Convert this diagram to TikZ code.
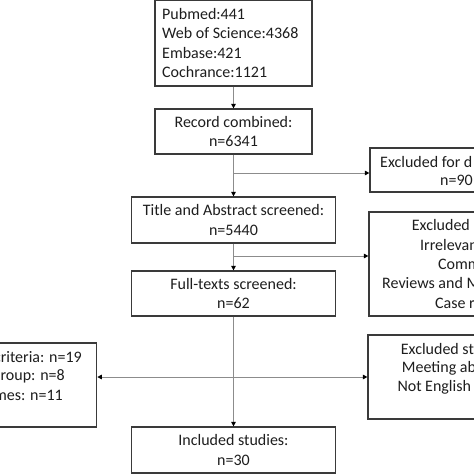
\documentclass[tikz,border=0pt]{standalone}
\usepackage{fontspec}
\setmainfont{Carlito}
\usetikzlibrary{arrows.meta}
\definecolor{boxc}{HTML}{3A3A3A}
\definecolor{linec}{HTML}{8C8C8C}
\definecolor{txtc}{HTML}{1E1E1E}
\begin{document}
\begin{tikzpicture}[x=1pt,y=-1pt,
  box/.style={draw=boxc, line width=1.2pt, inner sep=0pt, fill=white, text=txtc,
    font=\fontsize{16}{19.5}\selectfont, align=center},
  lbl/.style={text=txtc, font=\fontsize{16}{19.5}\selectfont, inner sep=0pt},
  conn/.style={draw=linec, line width=0.9pt},
  arr/.style={conn, -{Triangle[length=4.5pt,width=4.5pt,color=black]}},
]
\useasboundingbox (0,0) rectangle (474,474);
\clip (0,0) rectangle (474,474);

% boxes
\node[box, minimum width=157pt, minimum height=85.5pt] (src) at (233.5,43.25) {};
\node[lbl, anchor=west, align=left] (srct) at (162,43) {Pubmed:441\\Web of Science:4368\\Embase:421\\Cochrance:1121};
\node[box, minimum width=157pt, minimum height=45pt] (rec) at (233.5,131.5) {Record combined:\\n=6341};
\node[box, minimum width=204pt, minimum height=46pt] (title) at (233.5,220) {Title and Abstract screened:\\n=5440};
\node[box, minimum width=204pt, minimum height=45pt] (full) at (233.5,293.5) {Full-texts screened:\\n=62};
\node[box, minimum width=204pt, minimum height=46pt] (incl) at (233.5,450) {Included studies:\\n=30};

\node[box, minimum width=170pt, minimum height=44pt] (excl1) at (455,170) {};
\node[box, minimum width=171pt, minimum height=104pt] (excl2) at (454.5,264) {};
\node[box, minimum width=172pt, minimum height=84pt] (excl3) at (454,377) {};
\node[box, minimum width=166.7pt, minimum height=84pt] (left) at (13.35,385) {};

% cut-off texts
\node[lbl, anchor=west] (e1a) at (380,162) {Excluded for d};
\node[lbl, anchor=west] (e1b) at (440,180) {n=90};
\node[lbl, anchor=west] (e2a) at (411.7,225) {Excluded};
\node[lbl, anchor=west] (e2b) at (420,245) {Irrelevant:};
\node[lbl, anchor=west] (e2c) at (438,264) {Comm};
\node[lbl, anchor=west] (e2d) at (382,283) {Reviews and M};
\node[lbl, anchor=west] (e2e) at (435,303) {Case r};
\node[lbl, anchor=west] (e3a) at (400.7,349) {Excluded st};
\node[lbl, anchor=west] (e3b) at (401.7,368) {Meeting ab};
\node[lbl, anchor=west] (e3c) at (397.3,387) {Not English};
\node[lbl, anchor=east] (l1) at (82,357) {criteria: n=19};
\node[lbl, anchor=east] (l2) at (65,376) {roup: n=8};
\node[lbl, anchor=east] (l3) at (63,395) {mes: n=11};

% connectors
\coordinate (b1) at (233.5,173);
\coordinate (b2) at (233.5,256);
\coordinate (b3) at (233.5,377);
\draw[arr] (src) -- (rec);
\draw[arr] (rec) -- (title);
\draw[arr] (b1) -- (b1 -| excl1.west);
\draw[arr] (title) -- (full);
\draw[arr] (b2) -- (b2 -| excl2.west);
\draw[arr] (full) -- (incl);
\draw[arr] (b3) -- (b3 -| excl3.west);
\draw[arr] (b3) -- (b3 -| left.east);
\end{tikzpicture}
\end{document}
